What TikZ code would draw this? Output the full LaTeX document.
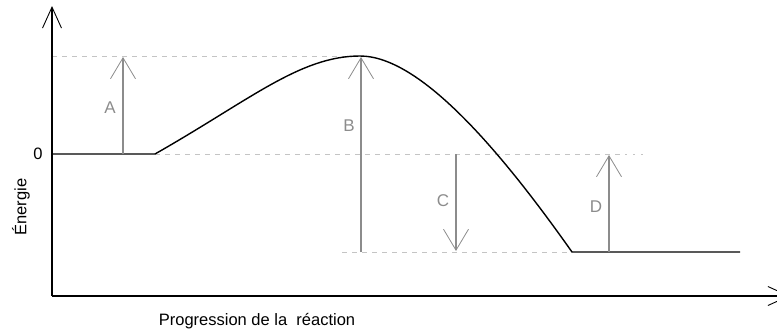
\documentclass[tikz,border=0pt]{standalone}
\usepackage{fontspec}
\setmainfont{Liberation Sans}
\usetikzlibrary{arrows.meta}
\definecolor{guide}{HTML}{C4C4C4}
\definecolor{measure}{HTML}{8C8C8C}
\tikzset{
  axis/.style={line width=1.3pt,black,-{Straight Barb[length=21pt,width=19pt,line width=0.9pt]}},
  guideline/.style={guide,line width=1pt,dash pattern=on 5pt off 5pt},
  curveline/.style={black,line width=1.4pt},
  measurearrow/.style={measure,line width=1.3pt,-{Straight Barb[length=21pt,width=25pt,line width=0.8pt]}},
  lbl/.style={font=\fontsize{17}{19}\selectfont,measure,inner sep=0pt},
  axlbl/.style={font=\fontsize{16.5}{19}\selectfont,black,inner sep=0pt}
}
\begin{document}
\begin{tikzpicture}[x=1pt,y=-1pt]
\useasboundingbox (0,0) rectangle (777,333);
% coordinates
\coordinate (O) at (52,296);
\coordinate (Ytip) at (52,6);
\coordinate (Xtip) at (790,296);
\coordinate (R0) at (52,154);
\coordinate (R1) at (155,154);
\coordinate (TS) at (360,56);
\coordinate (P0) at (572,252);
\coordinate (P1) at (740,252);
% guide lines
\draw[guideline] (52,56) -- (TS);
\draw[guideline] (R1) -- (625,154);
\draw[guide,line width=1pt,dash pattern=on 2pt off 6pt] (625,154) -- (645,154);
\draw[guideline] (342,252) -- (P0);
% axes
\draw[axis] (O) -- (Ytip);
\draw[axis] (O) -- (Xtip);
% energy profile
\draw[curveline] (R0) -- (R1) .. controls (250,100) and (300,56) .. (TS)
  .. controls (420,56) and (500,150) .. (P0) -- (P1);
% measure arrows
\coordinate (Ab) at (123,154); \coordinate (At) at (123,57);
\coordinate (Bb) at (361,252); \coordinate (Bt) at (361,57);
\coordinate (Ct) at (456,154); \coordinate (Cb) at (456,251);
\coordinate (Db) at (609,252); \coordinate (Dt) at (609,155);
\draw[measurearrow] (Ab) -- (At);
\draw[measurearrow] (Bb) -- (Bt);
\draw[measurearrow] (Ct) -- (Cb);
\draw[measurearrow] (Db) -- (Dt);
% labels
\node[lbl] (la) at (110,108) {A};
\node[lbl] (lb) at (349,126) {B};
\node[lbl] (lc) at (443,201) {C};
\node[lbl] (ld) at (596,207) {D};
\node[axlbl] (zero) at (38,154) {0};
\node[axlbl,rotate=90] (ener) at (21,207) {Énergie};
\node[axlbl,anchor=base] (prog) at (257,325) {Progression de la\ \ réaction};
\end{tikzpicture}
\end{document}
